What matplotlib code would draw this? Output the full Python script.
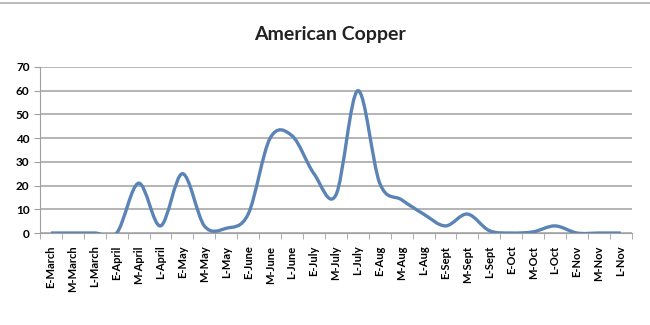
import numpy as np
import matplotlib
matplotlib.use('Agg')
import matplotlib.pyplot as plt
from matplotlib.path import Path
from matplotlib.patches import PathPatch
from matplotlib.lines import Line2D

# Data
periods = ['E-March', 'M-March', 'L-March', 'E-April', 'M-April', 'L-April',
           'E-May', 'M-May', 'L-May', 'E-June', 'M-June', 'L-June',
           'E-July', 'M-July', 'L-July', 'E-Aug', 'M-Aug', 'L-Aug',
           'E-Sept', 'M-Sept', 'L-Sept', 'E-Oct', 'M-Oct', 'L-Oct',
           'E-Nov', 'M-Nov', 'L-Nov']
copper = [0, 0, 0, 0, 21, 3, 25, 3, 2, 8, 40, 41, 25, 16, 60, 21, 14, 8,
          3, 8, 1, 0, 0.5, 3, 0, 0, 0]

plt.rcParams['font.family'] = ['Lato', 'DejaVu Sans']

fig = plt.figure(figsize=(6.5, 3.25), dpi=100)
ax = fig.add_axes([0.0615, 0.283, 0.9105, 0.511])

# Excel-style smoothed line: cubic Bezier through each point
x = np.arange(len(copper), dtype=float)
y = np.array(copper, dtype=float)
verts = [(x[0], y[0])]
codes = [Path.MOVETO]
n = len(x)
for i in range(n - 1):
    p0 = np.array([x[max(i - 1, 0)], y[max(i - 1, 0)]])
    p1 = np.array([x[i], y[i]])
    p2 = np.array([x[i + 1], y[i + 1]])
    p3 = np.array([x[min(i + 2, n - 1)], y[min(i + 2, n - 1)]])
    c1 = p1 + (p2 - p0) / 6
    c2 = p2 - (p3 - p1) / 6
    verts += [tuple(c1), tuple(c2), tuple(p2)]
    codes += [Path.CURVE4] * 3
ax.add_patch(PathPatch(Path(verts, codes), facecolor='none',
                       edgecolor='#5a84b6', lw=2.4, zorder=3))

ax.set_xlim(-0.5, len(periods) - 0.5)
ax.set_ylim(0, 70)
ax.set_yticks(range(0, 71, 10))
ax.set_xticks(x)
ax.set_xticklabels(periods, rotation=90, fontsize=8, fontweight='bold')
ax.set_xticks(np.arange(-0.5, len(periods), 1), minor=True)
ax.tick_params(axis='x', which='major', length=0, pad=9)
ax.tick_params(axis='x', which='minor', length=4, color='#a0a0a0', direction='out')
ax.tick_params(axis='y', length=4, color='#a0a0a0', labelsize=8.5)
for lbl in ax.get_yticklabels():
    lbl.set_fontweight('bold')

ax.grid(axis='y', color='#b4b4b4', lw=1.4)
ax.set_axisbelow(True)
for s in ['top', 'right']:
    ax.spines[s].set_visible(False)
ax.spines['left'].set_color('#a0a0a0')
ax.spines['bottom'].set_color('#a0a0a0')

fig.text(0.508, 0.895, 'American Copper', ha='center', va='center',
         fontsize=14, fontweight='bold', color='#222222')
fig.add_artist(Line2D([0, 1], [0.99, 0.99], color='#b0b0b0', lw=1.2))

fig.savefig('out.png', dpi=100)
